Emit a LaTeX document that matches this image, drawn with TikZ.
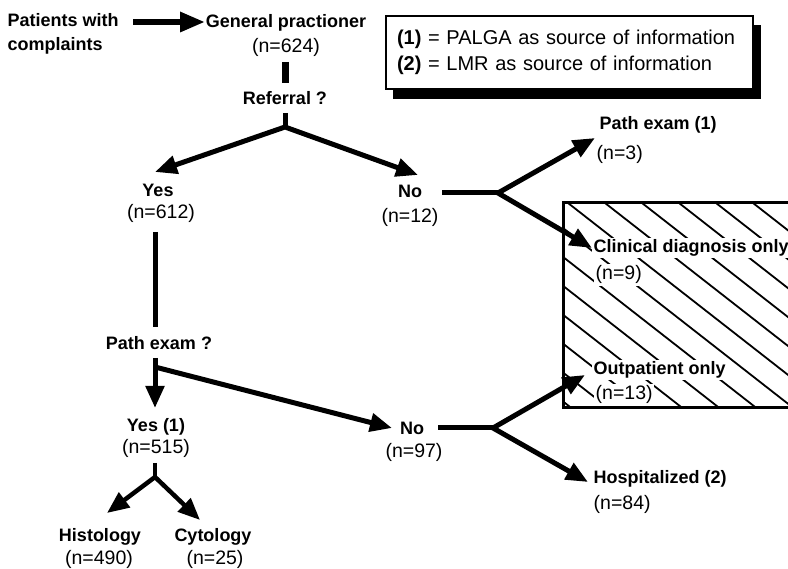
\documentclass[tikz,border=0pt]{standalone}
\usepackage{fontspec}
\setmainfont{Liberation Sans}
\usetikzlibrary{arrows.meta}
\begin{document}
\begin{tikzpicture}[x=1pt,y=-1pt,
  every node/.style={inner sep=1.5pt},
  lbl/.style={font=\fontsize{18}{24}\selectfont\bfseries, fill=white},
  cnt/.style={font=\fontsize{19.5}{24}\selectfont, fill=white},
  conn/.style={line width=5pt, line cap=butt, line join=miter},
  arr/.style={conn, -{Triangle[length=22pt,width=18pt]}},
  both/.style={conn, {Triangle[length=22pt,width=18pt]}-{Triangle[length=22pt,width=18pt]}},
  hatchline/.style={line width=1.8pt},
  border/.style={line width=3pt}]
\useasboundingbox (0,0) rectangle (788,569);

% hatched region
\begin{scope}
  \clip (563,203) rectangle (788,408);
  \foreach \k in {-8,...,6} {
    \draw[hatchline] ({568+37*\k},203) -- ++(320,250);
  }
\end{scope}
\draw[border] (790,203) -- (563,203) -- (563,408) -- (790,408);

% legend
\node (leg) [draw, line width=2pt, fill=white, anchor=north west,
  minimum width=365pt, minimum height=73pt, align=left, text width=345pt,
  inner xsep=11pt, font=\fontsize{20}{26}\selectfont] at (385,15)
  {\textbf{(1)} = PALGA as source of information\\\textbf{(2)} = LMR as source of information};
\fill ([xshift=8pt]leg.south west) rectangle ([xshift=7pt,yshift=-9pt]leg.south east);
\fill ([yshift=-10pt]leg.north east) rectangle ([xshift=7pt,yshift=-9pt]leg.south east);

% labels
\node (pat) [lbl, anchor=north west, align=left] at (6,12) {Patients with\\complaints};
\node (gp)  [lbl, anchor=base] at (286,27.5) {General practioner};
\node (gpn) [cnt, anchor=base] at (286,52.5) {(n=624)};
\node (ref) [lbl, anchor=base] at (285,104.5) {Referral ?};
\node (yes) [lbl, anchor=base] at (158,196.5) {Yes};
\node (yesn) [cnt, anchor=base] at (161,219) {(n=612)};
\node (no) [lbl, anchor=base] at (410,197.5) {No};
\node (non) [cnt, anchor=base] at (410,223) {(n=12)};
\node (pe) [lbl, anchor=base west] at (598,129.5) {Path exam (1)};
\node (pen) [cnt, anchor=base west] at (595,160) {(n=3)};
\node (cd) [lbl, anchor=base west] at (592,252.5) {Clinical diagnosis only};
\node (cdn) [cnt, anchor=base west] at (594,280) {(n=9)};
\node (pq) [lbl, anchor=base] at (159,349.5) {Path exam ?};
\node (y1) [lbl, anchor=base] at (156,431.5) {Yes (1)};
\node (y1n) [cnt, anchor=base] at (156,454) {(n=515)};
\node (no2) [lbl, anchor=base] at (412,434.5) {No};
\node (no2n) [cnt, anchor=base] at (414,458) {(n=97)};
\node (op) [lbl, anchor=base west] at (592,374.5) {Outpatient only};
\node (opn) [cnt, anchor=base west] at (594,400) {(n=13)};
\node (ho) [lbl, anchor=base west] at (592,483.5) {Hospitalized (2)};
\node (hon) [cnt, anchor=base west] at (592,510) {(n=84)};
\node (hi) [lbl, anchor=base] at (100,541.5) {Histology};
\node (hin) [cnt, anchor=base] at (99,564) {(n=490)};
\node (cy) [lbl, anchor=base] at (213,541.5) {Cytology};
\node (cyn) [cnt, anchor=base] at (215,564) {(n=25)};

% connector points
\coordinate (patOut) at (133,22);
\coordinate (gpIn) at (205,22);
\coordinate (gpDown) at (285,62);
\coordinate (refUp) at (285,83);
\coordinate (refDown) at (285,113);
\coordinate (b1) at (285,127);
\coordinate (yesIn) at (155,172);
\coordinate (noIn) at (418,175);
\coordinate (noOut) at (442,193);
\coordinate (b2) at (498,193);
\coordinate (peIn) at (595,138);
\coordinate (cdIn) at (592,248);
\coordinate (yesDown) at (155,232);
\coordinate (pqUp) at (155,327);
\coordinate (pqDown) at (155,358);
\coordinate (pqSplit) at (155,367);
\coordinate (y1In) at (155,408);
\coordinate (no2In) at (392,428);
\coordinate (no2Out) at (438,428);
\coordinate (b3) at (493,428);
\coordinate (opIn) at (585,375);
\coordinate (hoIn) at (588,482);
\coordinate (y1Down) at (155,463);
\coordinate (b4) at (155,477);
\coordinate (hiIn) at (107,513);
\coordinate (cyIn) at (200,520);

% connectors
\draw[conn, line width=6pt, -{Triangle[length=25pt,width=19pt]}] (patOut) -- (gpIn);
\draw[conn, line width=7pt] (gpDown) -- (refUp);
\draw[conn] (refDown) -- (b1);
\draw[both] (yesIn) -- (b1) -- (noIn);
\draw[conn] (noOut) -- (b2);
\draw[both] (peIn) -- (b2) -- (cdIn);
\draw[conn] (yesDown) -- (pqUp);
\draw[arr] (pqDown) -- (y1In);
\draw[arr] (pqSplit) -- (no2In);
\draw[conn] (no2Out) -- (b3);
\draw[both] (opIn) -- (b3) -- (hoIn);
\draw[conn, line width=4.5pt] (y1Down) -- (b4);
\draw[both, line width=4.5pt] (hiIn) -- (b4) -- (cyIn);
\end{tikzpicture}
\end{document}
